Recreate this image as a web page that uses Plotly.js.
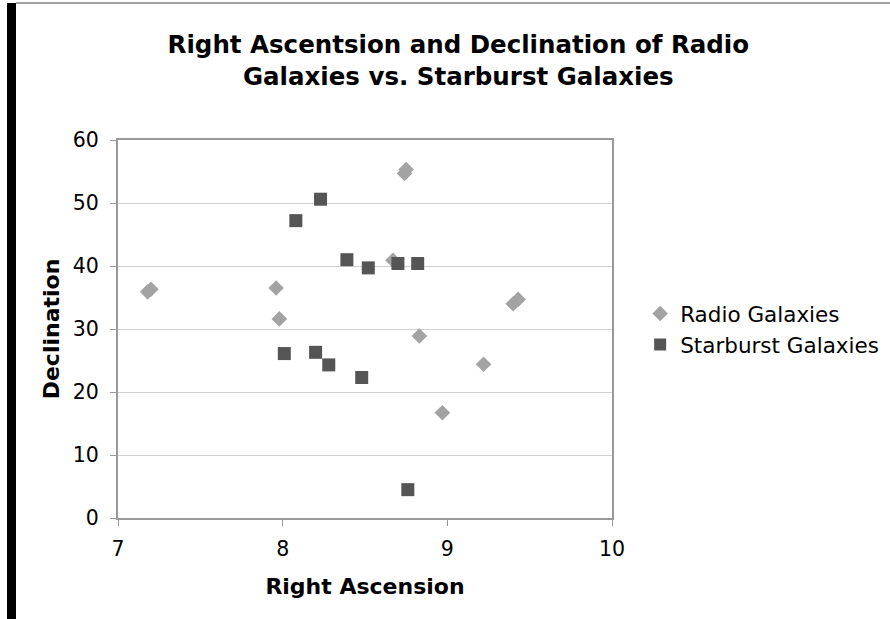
<!DOCTYPE html>
<html>
<head>
<meta charset="utf-8">
<script src="https://cdn.plot.ly/plotly-3.0.1.min.js"></script>
<style>html,body{margin:0;padding:0;background:#fff;}#chart{width:890px;height:619px;}</style>
</head>
<body>
<div id="chart"></div>
<script>
const radioRA = [7.18, 7.20, 7.96, 7.98, 8.75, 8.74, 8.67, 9.40, 9.43, 8.83, 9.22, 8.97];
const radioDec = [35.9, 36.3, 36.5, 31.6, 55.3, 54.7, 40.9, 34.0, 34.7, 28.9, 24.4, 16.7];
const starRA = [8.08, 8.23, 8.39, 8.52, 8.70, 8.82, 8.01, 8.20, 8.28, 8.48, 8.76];
const starDec = [47.2, 50.6, 41.0, 39.7, 40.4, 40.4, 26.1, 26.3, 24.3, 22.3, 4.5];
const xTicks = [7, 8, 9, 10];
const yTicks = [0, 10, 20, 30, 40, 50, 60];

const font = 'DejaVu Sans, Verdana, sans-serif';

const traces = [
  {x: radioRA, y: radioDec, mode: 'markers', type: 'scatter', name: 'Radio Galaxies',
   marker: {symbol: 'diamond', size: 12, color: '#a3a3a3', line: {width: 0}}},
  {x: starRA, y: starDec, mode: 'markers', type: 'scatter', name: 'Starburst Galaxies',
   marker: {symbol: 'square', size: 13, color: '#555555', line: {width: 0}}}
];

const layout = {
  width: 890, height: 619,
  paper_bgcolor: '#ffffff', plot_bgcolor: '#ffffff',
  margin: {l: 118, r: 278, t: 140, b: 101, autoexpand: false},
  title: {text: '<b>Right Ascentsion and Declination of Radio<br>Galaxies vs. Starburst Galaxies</b>',
          font: {family: font, size: 24.5, color: '#000'}, x: 0.515, xanchor: 'center', y: 0.9145, yanchor: 'top'},
  showlegend: true,
  legend: {x: 1.057, y: 0.5, xanchor: 'left', yanchor: 'middle', font: {family: font, size: 21.5, color: '#000'},
           itemsizing: 'constant', tracegroupgap: 2, bgcolor: 'rgba(0,0,0,0)', itemwidth: 30},
  xaxis: {range: [7, 10], tickvals: xTicks, ticktext: xTicks.map(String), showgrid: false, zeroline: false,
          showline: true, mirror: true, linecolor: '#999999', linewidth: 2,
          ticks: 'outside', ticklen: 6, tickcolor: '#999999', ticklabelstandoff: 5,
          tickfont: {family: font, size: 20.5, color: '#000'},
          title: {text: '<b>Right Ascension</b>', font: {family: font, size: 22, color: '#000'}, standoff: 19}},
  yaxis: {range: [0, 60], tickvals: yTicks, ticktext: yTicks.map(String), showgrid: true, gridcolor: '#d0d0d0', gridwidth: 1,
          zeroline: false, showline: true, mirror: true, linecolor: '#999999', linewidth: 2,
          ticks: 'outside', ticklen: 6, tickcolor: '#999999', ticklabelstandoff: 7,
          tickfont: {family: font, size: 20.5, color: '#000'},
          title: {text: '<b>Declination</b>', font: {family: font, size: 22, color: '#000'}, standoff: 7}},
  shapes: [
    {type: 'rect', xref: 'paper', yref: 'paper', x0: -118/494 + 7/494, x1: -118/494 + 16/494, y0: -101/378, y1: (378+140-3)/378,
     fillcolor: '#000', line: {width: 0}, layer: 'above'},
    {type: 'line', xref: 'paper', yref: 'paper', x0: -118/494 + 16/494, x1: (890-118)/494, y0: (378+140-3)/378, y1: (378+140-3)/378,
     line: {color: '#a0a0a0', width: 2}}
  ]
};

Plotly.newPlot('chart', traces, layout, {displayModeBar: false, staticPlot: true});
</script>
</body>
</html>
